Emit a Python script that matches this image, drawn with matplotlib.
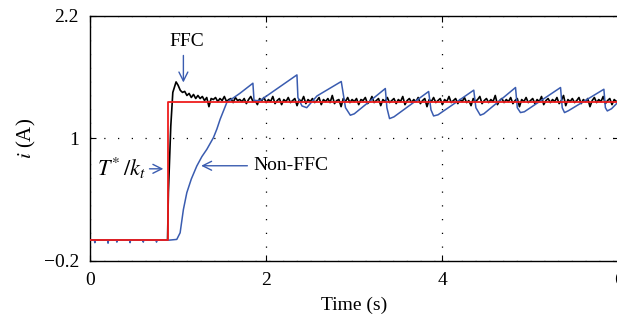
import numpy as np
import matplotlib
matplotlib.use("Agg")
import matplotlib.pyplot as plt

plt.rcParams['font.family'] = ['Liberation Serif', 'DejaVu Serif']
plt.rcParams['mathtext.fontset'] = 'stix'

# ---------------- data ----------------
ref_t = [0.0, 0.88, 0.88, 6.0]
ref_i = [0.0, 0.0, 1.36, 1.36]

ffc_rise_t = [0.0, 0.88, 0.89, 0.917, 0.94, 0.977]
ffc_rise_i = [0.0, 0.0, 0.47, 1.12, 1.45, 1.553]
ffc_ss_t = np.linspace(1.0, 6.0, 201)
ffc_ss_i = [
    1.52, 1.47, 1.45, 1.46, 1.42, 1.44, 1.40, 1.43, 1.39, 1.42,
    1.39, 1.41, 1.37, 1.40, 1.31, 1.39, 1.38, 1.40, 1.36, 1.39,
    1.37, 1.41, 1.36, 1.38, 1.39, 1.35, 1.40, 1.37, 1.38, 1.36,
    1.39, 1.34, 1.38, 1.41, 1.36, 1.37, 1.33, 1.39, 1.37, 1.40,
    1.35, 1.38, 1.36, 1.41, 1.34, 1.37, 1.39, 1.33, 1.38, 1.36,
    1.40, 1.35, 1.37, 1.39, 1.32, 1.38, 1.36, 1.41, 1.34, 1.38,
    1.36, 1.39, 1.35, 1.37, 1.40, 1.33, 1.38, 1.36, 1.39, 1.35,
    1.42, 1.34, 1.37, 1.38, 1.31, 1.39, 1.36, 1.40, 1.35, 1.38,
    1.36, 1.39, 1.33, 1.38, 1.37, 1.40, 1.34, 1.36, 1.41, 1.35,
    1.37, 1.39, 1.32, 1.38, 1.36, 1.40, 1.35, 1.37, 1.39, 1.34,
    1.38, 1.36, 1.41, 1.33, 1.37, 1.39, 1.35, 1.38, 1.36, 1.40,
    1.34, 1.37, 1.39, 1.31, 1.38, 1.36, 1.40, 1.35, 1.37, 1.39,
    1.33, 1.38, 1.36, 1.41, 1.35, 1.37, 1.39, 1.34, 1.38, 1.36,
    1.40, 1.35, 1.37, 1.32, 1.39, 1.36, 1.38, 1.41, 1.34, 1.37,
    1.39, 1.35, 1.38, 1.36, 1.42, 1.33, 1.37, 1.39, 1.35, 1.38,
    1.36, 1.40, 1.34, 1.37, 1.39, 1.31, 1.38, 1.36, 1.40, 1.35,
    1.37, 1.39, 1.34, 1.38, 1.36, 1.41, 1.33, 1.37, 1.39, 1.35,
    1.38, 1.36, 1.40, 1.34, 1.37, 1.42, 1.32, 1.38, 1.36, 1.39,
    1.35, 1.37, 1.40, 1.34, 1.38, 1.36, 1.39, 1.31, 1.37, 1.40,
    1.35, 1.38, 1.36, 1.41, 1.34, 1.37, 1.39, 1.33, 1.38, 1.36,
    1.37,
]

nonffc_t = [
    0.0, 0.05, 0.055, 0.06, 0.2, 0.205, 0.21, 0.3, 0.305, 0.31, 0.45,
    0.455, 0.46, 0.6, 0.605, 0.61, 0.75, 0.755, 0.76, 0.9, 0.985,
    1.023, 1.06, 1.099, 1.15, 1.212, 1.27, 1.326, 1.401, 1.44, 1.477,
    1.553, 1.60, 1.70, 1.849, 1.862, 1.93,
    2.349, 2.36, 2.406, 2.46, 2.576, 2.852,
    2.90, 2.955, 3.0, 3.352,
    3.37, 3.40, 3.45, 3.844,
    3.87, 3.90, 3.95, 4.356,
    4.38, 4.43, 4.47, 4.830,
    4.85, 4.886, 4.93, 5.341,
    5.36, 5.386, 5.43, 5.833,
    5.85, 5.872, 5.92, 6.0,
]
nonffc_i = [
    0.0, 0.0, -0.025, 0.0, 0.0, -0.03, 0.0, 0.0, -0.02, 0.0, 0.0,
    -0.025, 0.0, 0.0, -0.02, 0.0, 0.0, -0.02, 0.0, 0.0, 0.007,
    0.072, 0.30, 0.466, 0.60, 0.727, 0.82, 0.891, 1.006, 1.09, 1.186,
    1.351, 1.38, 1.44, 1.54, 1.37, 1.37,
    1.622, 1.40, 1.317, 1.30, 1.415, 1.557,
    1.30, 1.226, 1.24, 1.488,
    1.30, 1.193, 1.21, 1.459,
    1.28, 1.219, 1.23, 1.472,
    1.30, 1.226, 1.24, 1.498,
    1.30, 1.252, 1.26, 1.498,
    1.30, 1.252, 1.27, 1.481,
    1.30, 1.268, 1.29, 1.36,
]

xticks = [0, 2, 4, 6]
yticks = [-0.2, 1, 2.2]
ytick_labels = ['\u22120.2', '1', '2.2']

# ---------------- figure ----------------
blue = '#3a5cb0'
red = '#ee1c1c'

fig = plt.figure(figsize=(6.17, 3.23), dpi=100)
ax = fig.add_axes([90 / 617, 62.5 / 323, 528.6 / 617, 244.5 / 323])

ax.plot(list(ffc_rise_t) + list(ffc_ss_t), list(ffc_rise_i) + list(ffc_ss_i),
        color='black', lw=1.2, zorder=3)
ax.plot(nonffc_t, nonffc_i, color=blue, lw=1.1, zorder=4)
ax.plot(ref_t, ref_i, color=red, lw=1.3, zorder=5)

ax.set_xlim(0, 6)
ax.set_ylim(-0.2, 2.2)
ax.set_xticks(xticks)
ax.set_xticklabels([str(v) for v in xticks])
ax.set_yticks(yticks)
ax.set_yticklabels(ytick_labels)
ax.tick_params(direction='in', top=True, right=True, length=4, width=0.8,
               labelsize=14, pad=8)
for s in ax.spines.values():
    s.set_linewidth(1.0)

ax.grid(True, color='black', linestyle=(0, (1, 10)), linewidth=0.9)

ax.set_xlabel('Time (s)', fontsize=14, labelpad=6)
ax.set_ylabel('$i$ (A)', fontsize=15)
ax.yaxis.set_label_coords(-0.098, 0.5)

# annotations
ax.annotate('', xy=(1.06, 1.52), xytext=(1.06, 1.84),
            arrowprops=dict(arrowstyle='->', color=blue, lw=1.0, mutation_scale=16),
            zorder=6)
ax.text(1.10, 1.95, 'FFC', fontsize=14, ha='center', va='center')

ax.annotate('', xy=(0.864, 0.70), xytext=(0.644, 0.70),
            arrowprops=dict(arrowstyle='->', color=blue, lw=1.0, mutation_scale=16),
            zorder=6)
ax.text(0.635, 0.70, r'$T^{*}\,/k_{t}$', fontsize=16, ha='right', va='center')

ax.annotate('', xy=(1.23, 0.73), xytext=(1.818, 0.73),
            arrowprops=dict(arrowstyle='->', color=blue, lw=1.0, mutation_scale=16),
            zorder=6)
ax.text(1.856, 0.735, 'Non-FFC', fontsize=14, ha='left', va='center')

fig.savefig('out.png', dpi=100)
